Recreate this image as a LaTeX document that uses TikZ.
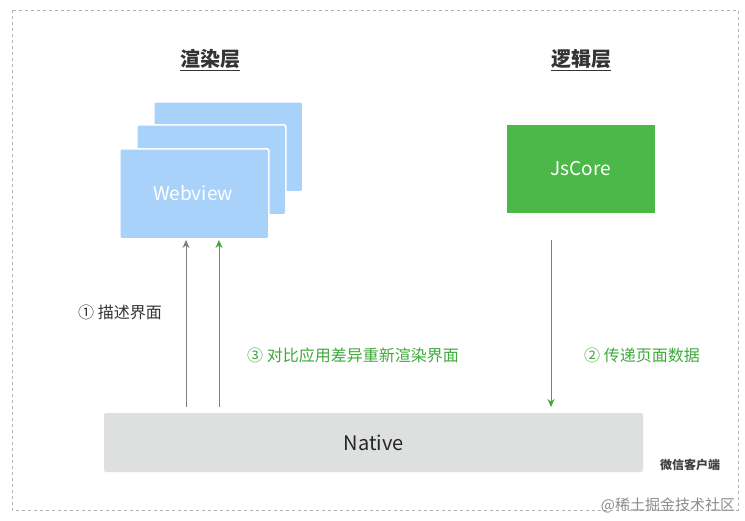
\documentclass[tikz,border=0pt]{standalone}
\usepackage{fontspec}
\setmainfont{Noto Sans CJK SC}
\usetikzlibrary{arrows.meta}
\definecolor{cardblue}{HTML}{A9D2FB}
\definecolor{jsgreen}{HTML}{4CB849}
\definecolor{txtgreen}{HTML}{3DAA3A}
\definecolor{nat}{HTML}{DEDFDF}
\tikzset{
 card/.style={fill=cardblue,draw=white,line width=1.5pt,rounded corners=1.5pt,anchor=north west,minimum width=149pt,minimum height=90pt,inner sep=0pt},
 ttl/.style={font=\bfseries\fontsize{20}{24}\selectfont,text=black!80},
 lbl/.style={font=\fontsize{16}{19}\selectfont},
 arr/.style={-{Stealth[length=8pt,width=7pt]},line width=1pt}
}
\begin{document}
\begin{tikzpicture}[x=1pt,y=-1pt]
\useasboundingbox (0,0) rectangle (745,520);
\fill[white] (0,0) rectangle (745,520);
\draw[gray!60,dashed,line width=0.8pt] (12,10) rectangle (738,510);
\node[ttl] (t1) at (210,60) {\underline{渲染层}};
\node[ttl] (t2) at (581,60) {\underline{逻辑层}};
\node[card] (c3) at (153,101) {};
\node[card] (c2) at (136,124) {};
\node[card] (c1) at (119,148) {};
\node[text=white,font=\fontsize{19}{22}\selectfont] (wv) at (193,193) {Webview};
\node[fill=jsgreen,minimum width=148pt,minimum height=88pt,inner sep=0pt,text=white,font=\fontsize{19}{22}\selectfont] (js) at (581,169) {JsCore};
\node[fill=nat,rounded corners=2pt,minimum width=539pt,minimum height=59pt,inner sep=0pt,font=\fontsize{20}{24}\selectfont,text=black!85] (nv) at (373.5,442.5) {Native};
\coordinate (a1s) at (186,407); \coordinate (a1e) at (186,240);
\coordinate (a3s) at (219,407); \coordinate (a3e) at (219,240);
\coordinate (a2s) at (551,240); \coordinate (a2e) at (551,407);
\draw[arr,gray] (a1s) -- (a1e);
\draw[arr,txtgreen] (a3s) -- (a3e);
\draw[arr,txtgreen] (a2s) -- (a2e);
\node[lbl,text=black!80] (l1) at (120,312) {① 描述界面};
\node[lbl,text=txtgreen] (l3) at (353,355) {③ 对比应用差异重新渲染界面};
\node[lbl,text=txtgreen] (l2) at (642,355) {② 传递页面数据};
\node[font=\bfseries\fontsize{12}{14}\selectfont,text=black!75] (wx) at (690,465) {微信客户端};
\node[font=\fontsize{15}{18}\selectfont,text=black!45] (wm) at (668,505) {@稀土掘金技术社区};
\end{tikzpicture}
\end{document}
